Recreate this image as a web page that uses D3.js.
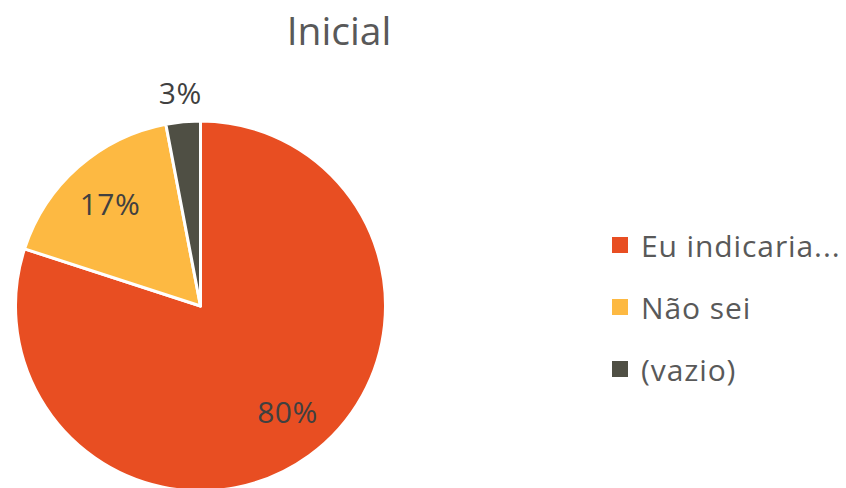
<!DOCTYPE html>
<html>
<head>
<meta charset="utf-8">
<script src="https://cdn.jsdelivr.net/npm/d3@7"></script>
<style>
  html, body { margin: 0; padding: 0; background: #fff; }
  text { font-family: "Open Sans", "Liberation Sans", sans-serif; fill: #595959; }
</style>
</head>
<body>
<svg id="chart" width="846" height="488"></svg>
<script>
const title = "Inicial";
const categories = ["Eu indicaria...", "Não sei", "(vazio)"];
const values = [80, 17, 3];
const labels = ["80%", "17%", "3%"];
const colors = ["#E84E22", "#FDB942", "#4F4F44"];

const svg = d3.select("#chart");
const W = 846, H = 488;
const cx = 200.5, cy = 306, r = 185;

svg.append("text")
  .attr("x", 339).attr("y", 45)
  .attr("text-anchor", "middle")
  .style("font-size", "39px")
  .text(title);

const pie = d3.pie().sort(null).value(d => d)(values);
const arc = d3.arc().innerRadius(0).outerRadius(r);

const g = svg.append("g").attr("transform", `translate(${cx},${cy})`);
g.selectAll("path").data(pie).join("path")
  .attr("d", arc)
  .attr("fill", (d, i) => colors[i])
  .attr("stroke", "#fff")
  .attr("stroke-width", 3)
  .attr("stroke-linejoin", "round");

// label positions: inside for big slices, outside for the small one
const labelRadius = [0.74, 0.74, 1.16];
const labelAngleShift = [-0.06, 0, 0];
g.selectAll("text.lbl").data(pie).join("text")
  .attr("class", "lbl")
  .attr("text-anchor", "middle")
  .attr("dominant-baseline", "central")
  .style("font-size", "30px")
  .style("letter-spacing", "0.5px")
  .style("fill", "#404040")
  .attr("transform", (d, i) => {
    const a = (d.startAngle + d.endAngle) / 2 + labelAngleShift[i];
    const rr = r * labelRadius[i];
    return `translate(${rr * Math.sin(a)},${-rr * Math.cos(a)})`;
  })
  .text((d, i) => labels[i]);

const legend = svg.append("g").attr("transform", "translate(612,245)");
const rows = legend.selectAll("g").data(categories).join("g")
  .attr("transform", (d, i) => `translate(0,${i * 62})`);
rows.append("rect")
  .attr("x", 0).attr("y", -8).attr("width", 16).attr("height", 16)
  .attr("fill", (d, i) => colors[i]);
rows.append("text")
  .attr("x", 29).attr("y", 0)
  .attr("dominant-baseline", "central")
  .style("font-size", "30px")
  .style("letter-spacing", "0.9px")
  .text(d => d);
</script>
</body>
</html>
